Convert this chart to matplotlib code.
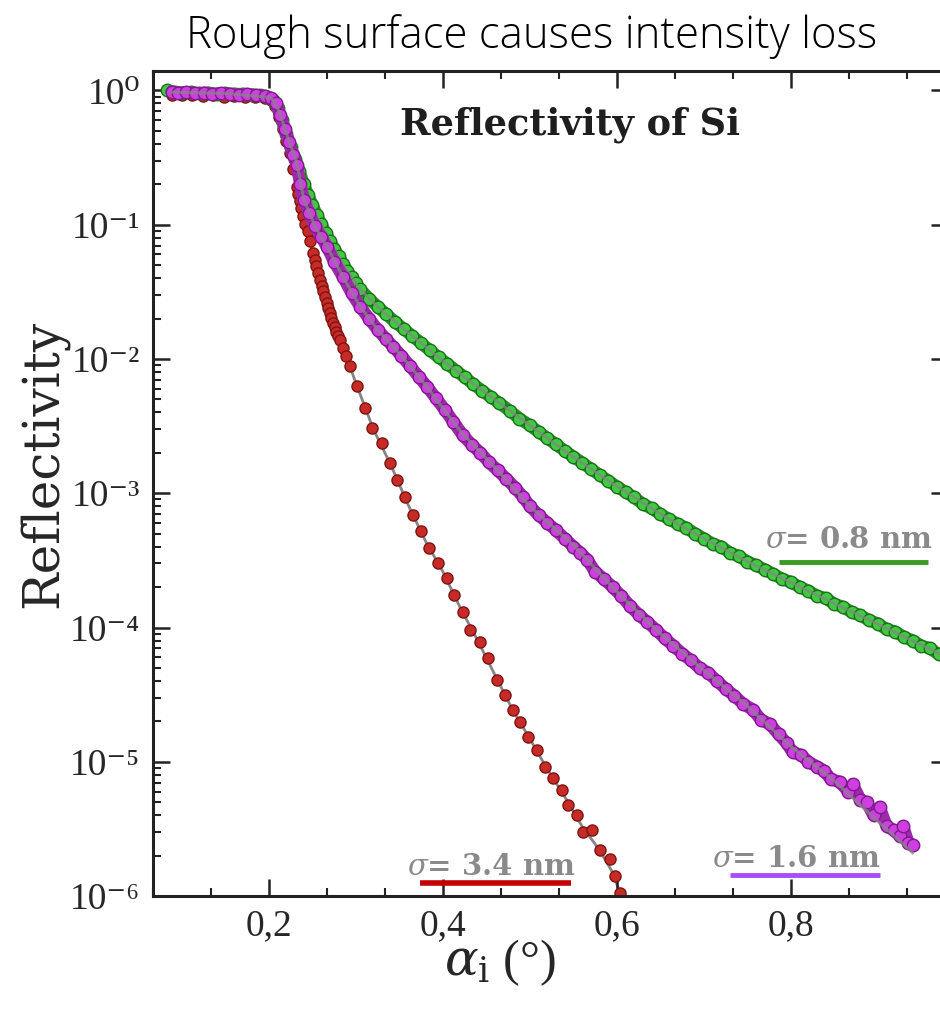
import numpy as np
import matplotlib
matplotlib.use("Agg")
import matplotlib.pyplot as plt
from matplotlib.ticker import AutoMinorLocator, LogLocator, NullFormatter, FixedLocator, FuncFormatter

plt.rcParams['font.family'] = ['Liberation Serif', 'DejaVu Serif']
plt.rcParams['mathtext.fontset'] = 'dejavuserif'

# ------------------------------
# measured reflectivity, sigma = 0.8 nm
# ------------------------------
alpha_08 = [0.083, 0.092, 0.100, 0.110, 0.120, 0.130, 0.140, 0.150, 0.160, 0.170,
            0.180, 0.190, 0.198, 0.205, 0.210, 0.215, 0.220, 0.225, 0.230, 0.235,
            0.240, 0.245, 0.250, 0.255, 0.260, 0.265, 0.270, 0.275, 0.280, 0.285,
            0.290, 0.295, 0.300, 0.305, 0.315, 0.325, 0.335, 0.345, 0.355, 0.365,
            0.375, 0.385, 0.395, 0.405, 0.415, 0.425, 0.435, 0.445, 0.455, 0.465,
            0.477, 0.488, 0.500, 0.510, 0.520, 0.530, 0.540, 0.550, 0.560, 0.570,
            0.580, 0.590, 0.600, 0.610, 0.620, 0.630, 0.640, 0.650, 0.660, 0.670,
            0.680, 0.690, 0.700, 0.710, 0.720, 0.730, 0.740, 0.750, 0.760, 0.770,
            0.780, 0.790, 0.800, 0.810, 0.820, 0.830, 0.840, 0.850, 0.860, 0.870,
            0.880, 0.890, 0.900, 0.910, 0.920, 0.930, 0.940, 0.950, 0.960, 0.970,
            0.980]
refl_08 = [1.00, 0.97, 0.96, 0.97, 0.95, 0.96, 0.94, 0.95, 0.94, 0.94,
           0.93, 0.92, 0.90, 0.85, 0.74, 0.60, 0.47, 0.38, 0.31, 0.25,
           0.20, 0.166, 0.140, 0.118, 0.101, 0.087, 0.076, 0.066, 0.058, 0.051,
           0.0455, 0.0405, 0.0365, 0.0330, 0.0282, 0.0245, 0.0215, 0.0189, 0.0167, 0.0148,
           0.0131, 0.0116, 0.0103, 0.0092, 0.0082, 0.0073, 0.0065, 0.0058, 0.0052, 0.0047,
           0.0041, 0.0036, 0.0032, 0.00286, 0.00257, 0.00231, 0.00207, 0.00187, 0.00169, 0.00152,
           0.00137, 0.00124, 0.00112, 0.00102, 0.00093, 0.00083, 0.00077, 0.00070, 0.00064, 0.00059,
           0.00055, 0.00050, 0.00046, 0.00042, 0.00040, 0.00036, 0.00034, 0.00031, 0.00029, 0.00027,
           0.00025, 0.00023, 0.000218, 0.000200, 0.000188, 0.000172, 0.000165, 0.000150, 0.000142, 0.000130,
           0.000123, 0.000113, 0.000107, 0.000097, 0.000093, 0.000085, 0.000080, 0.000073, 0.000070, 0.000063,
           0.000060]

fit_alpha_08 = [0.083, 0.15, 0.20, 0.205, 0.212, 0.22, 0.23, 0.24, 0.25, 0.26,
                0.27, 0.28, 0.29, 0.305, 0.325, 0.345, 0.365, 0.395, 0.425, 0.465,
                0.50, 0.54, 0.58, 0.62, 0.66, 0.70, 0.75, 0.80, 0.85, 0.90,
                0.95, 0.98]
fit_refl_08 = [0.98, 0.95, 0.91, 0.87, 0.70, 0.47, 0.31, 0.20, 0.140, 0.101,
               0.076, 0.058, 0.0455, 0.0330, 0.0245, 0.0189, 0.0148, 0.0103, 0.0073, 0.0047,
               0.0032, 0.00207, 0.00137, 0.00093, 0.00064, 0.00046, 0.00031, 0.000216, 0.000151, 0.000106,
               0.000074, 0.000060]

# ------------------------------
# measured reflectivity, sigma = 1.6 nm
# ------------------------------
alpha_16 = [0.088, 0.095, 0.105, 0.115, 0.125, 0.135, 0.145, 0.155, 0.165, 0.175,
            0.185, 0.195, 0.202, 0.208, 0.213, 0.218, 0.223, 0.228, 0.232, 0.236,
            0.240, 0.246, 0.253, 0.260, 0.267, 0.275, 0.285, 0.295, 0.305, 0.315,
            0.325, 0.334, 0.343, 0.352, 0.362, 0.372, 0.382, 0.392, 0.402, 0.412,
            0.423, 0.433, 0.443, 0.453, 0.463, 0.473, 0.483, 0.492, 0.500, 0.510,
            0.520, 0.530, 0.540, 0.550, 0.558, 0.566, 0.575, 0.585, 0.595, 0.605,
            0.615, 0.625, 0.635, 0.645, 0.655, 0.665, 0.675, 0.685, 0.695, 0.705,
            0.715, 0.725, 0.735, 0.745, 0.756, 0.766, 0.776, 0.786, 0.795, 0.802,
            0.812, 0.820, 0.830, 0.838, 0.846, 0.856, 0.866, 0.871, 0.880, 0.887,
            0.895, 0.902, 0.910, 0.918, 0.925, 0.929, 0.935, 0.940]
refl_16 = [0.98, 0.96, 0.97, 0.95, 0.96, 0.94, 0.95, 0.94, 0.93, 0.94,
           0.92, 0.91, 0.88, 0.80, 0.66, 0.52, 0.41, 0.33, 0.28, 0.20,
           0.152, 0.122, 0.097, 0.081, 0.068, 0.053, 0.041, 0.031, 0.0245, 0.0200,
           0.0165, 0.0142, 0.0123, 0.0106, 0.0089, 0.0074, 0.0062, 0.0051, 0.0042, 0.0034,
           0.0027, 0.0023, 0.0020, 0.0017, 0.00148, 0.00128, 0.00110, 0.00094, 0.00080, 0.00069,
           0.00060, 0.00053, 0.00046, 0.00040, 0.00036, 0.00032, 0.00026, 0.00023, 0.00020, 0.000172,
           0.000145, 0.000125, 0.000110, 0.000096, 0.000083, 0.000073, 0.000064, 0.000057, 0.000050, 0.000046,
           0.000040, 0.000035, 0.000031, 0.000027, 0.0000245, 0.0000205, 0.0000190, 0.0000160, 0.0000138, 0.0000118,
           0.0000112, 0.0000100, 0.0000092, 0.0000086, 0.0000074, 0.0000071, 0.0000060, 0.0000068, 0.0000052, 0.0000050,
           0.0000040, 0.0000046, 0.0000033, 0.0000031, 0.0000028, 0.0000033, 0.0000025, 0.0000024]

fit_alpha_16 = [0.088, 0.15, 0.20, 0.205, 0.212, 0.22, 0.232, 0.240, 0.253, 0.267,
                0.285, 0.305, 0.325, 0.35, 0.38, 0.42, 0.46, 0.50, 0.55, 0.60,
                0.65, 0.70, 0.75, 0.80, 0.85, 0.90, 0.94]
fit_refl_16 = [0.97, 0.95, 0.89, 0.85, 0.69, 0.48, 0.29, 0.155, 0.097, 0.068,
               0.041, 0.0245, 0.0165, 0.0110, 0.0064, 0.0029, 0.00155, 0.00080, 0.00041, 0.000185,
               0.000090, 0.000048, 0.0000260, 0.0000130, 0.0000072, 0.0000036, 0.0000021]

# ------------------------------
# measured reflectivity, sigma = 3.4 nm
# ------------------------------
alpha_34 = [0.088, 0.100, 0.112, 0.124, 0.136, 0.148, 0.160, 0.172, 0.184, 0.195,
            0.202, 0.207, 0.212, 0.216, 0.220, 0.224, 0.228, 0.2318, 0.2337, 0.2356,
            0.2373, 0.2391, 0.2420, 0.2448, 0.2477, 0.2506, 0.2526, 0.2546, 0.2566, 0.2586,
            0.2605, 0.2625, 0.2644, 0.2663, 0.2682, 0.2700, 0.2718, 0.2736, 0.2756, 0.2776,
            0.2796, 0.2816, 0.2850, 0.2885, 0.2931, 0.3008, 0.3103, 0.3180, 0.3295, 0.3391,
            0.3468, 0.3563, 0.3652, 0.3744, 0.3843, 0.3947, 0.4043, 0.4127, 0.4227, 0.4310,
            0.4425, 0.4517, 0.4621, 0.4713, 0.4805, 0.4885, 0.4977, 0.5080, 0.5172, 0.5264,
            0.5368, 0.5437, 0.5540, 0.5609, 0.5713, 0.5805, 0.5920, 0.5977, 0.6034]
refl_34 = [0.93, 0.92, 0.93, 0.91, 0.92, 0.90, 0.91, 0.90, 0.89, 0.88,
           0.85, 0.76, 0.63, 0.52, 0.42, 0.34, 0.26, 0.192, 0.170, 0.150,
           0.133, 0.116, 0.102, 0.090, 0.075, 0.062, 0.055, 0.049, 0.044, 0.039,
           0.035, 0.032, 0.029, 0.026, 0.024, 0.022, 0.0202, 0.0185, 0.0172, 0.0160,
           0.0148, 0.0138, 0.0120, 0.0105, 0.0088, 0.0063, 0.0043, 0.00305, 0.00236, 0.00167,
           0.00126, 0.00094, 0.00069, 0.00052, 0.00039, 0.00030, 0.000232, 0.000175, 0.000131, 0.0000957,
           0.0000783, 0.0000593, 0.0000406, 0.0000314, 0.0000243, 0.0000198, 0.0000153, 0.0000122, 0.0000091, 0.0000076,
           0.0000062, 0.0000048, 0.0000040, 0.0000030, 0.0000031, 0.0000022, 0.0000019, 0.0000014, 0.00000105]

fit_alpha_34 = [0.088, 0.20, 0.207, 0.216, 0.224, 0.232, 0.240, 0.25, 0.26, 0.27,
                0.28, 0.29, 0.30, 0.32, 0.34, 0.36, 0.38, 0.40, 0.42, 0.44,
                0.46, 0.48, 0.50, 0.52, 0.54, 0.56, 0.58, 0.595, 0.605]
fit_refl_34 = [0.93, 0.87, 0.76, 0.52, 0.34, 0.19, 0.11, 0.063, 0.036, 0.022,
               0.0145, 0.0100, 0.0066, 0.0030, 0.00163, 0.00082, 0.00044, 0.00026, 0.000140, 0.000080,
               0.000044, 0.0000245, 0.0000148, 0.0000088, 0.0000055, 0.0000033, 0.0000022, 0.0000015, 0.0000010]

x_ticks = [0.2, 0.4, 0.6, 0.8]
y_ticks = [1e-6, 1e-5, 1e-4, 1e-3, 1e-2, 1e-1, 1e0]
labels = ["0.8 nm", "1.6 nm", "3.4 nm"]

TEXT = '#262626'
FIT = '#858585'
WIDE = ['DejaVu Serif']
SUP = str.maketrans("-0123456789", "⁻⁰¹²³⁴⁵⁶⁷⁸⁹")


def decade_label(v, pos):
    return "10" + str(int(round(np.log10(v)))).translate(SUP)


fig = plt.figure(figsize=(9.4, 10.11), dpi=100)
ax = fig.add_axes([0.1624, 0.1137, 0.846, 0.8161])

# sigma = 3.4 nm : separate dots, fit underneath
ax.plot(fit_alpha_34, fit_refl_34, '-', color=FIT, lw=2.0, zorder=1.5)
ax.plot(alpha_34, refl_34, 'o', ms=8, mfc='#c62b28', mec='#7e1412', mew=1.0, zorder=2)

# sigma = 0.8 nm : dense band
ax.plot(alpha_08, refl_08, '-', color='#2c8f2c', lw=9, solid_capstyle='round', zorder=3)
ax.plot(alpha_08, refl_08, 'o', ms=9, mfc='#3fcb3f', mec='#1f6f1f', mew=1.0, zorder=3.1)
ax.plot(fit_alpha_08, fit_refl_08, '-', color=FIT, lw=2.0, alpha=0.75, zorder=3.2)

# sigma = 1.6 nm : dense band
ax.plot(alpha_16, refl_16, '-', color='#9c2aab', lw=9, solid_capstyle='round', zorder=4)
ax.plot(alpha_16, refl_16, 'o', ms=9, mfc='#cf3ee0', mec='#7c1c89', mew=1.0, zorder=4.1)
ax.plot(fit_alpha_16, fit_refl_16, '-', color=FIT, lw=2.2, alpha=0.75, zorder=4.2)

# axes
ax.set_yscale('log')
ax.set_xlim(0.0663, 0.9805)
ax.set_ylim(1e-6, 10 ** 0.145)

ax.xaxis.set_major_locator(FixedLocator(x_ticks))
ax.xaxis.set_major_formatter(FuncFormatter(lambda v, p: f"{v:.1f}".replace('.', ',')))
ax.xaxis.set_minor_locator(AutoMinorLocator(3))
ax.yaxis.set_major_locator(FixedLocator(y_ticks))
ax.yaxis.set_major_formatter(FuncFormatter(decade_label))
ax.yaxis.set_minor_locator(LogLocator(base=10, subs=np.arange(2, 10), numticks=20))
ax.yaxis.set_minor_formatter(NullFormatter())

ax.tick_params(which='both', direction='in', top=True, right=True, colors='#222222')
ax.tick_params(which='major', length=12, width=1.8, labelcolor=TEXT)
ax.tick_params(axis='x', which='major', pad=9, labelsize=27)
ax.tick_params(axis='y', which='major', pad=9, labelsize=27)
ax.tick_params(which='minor', length=6, width=1.5)
for s in ax.spines.values():
    s.set_linewidth(2.2)
    s.set_color('#222222')

ax.set_ylabel("Reflectivity", family=WIDE, fontsize=36, color=TEXT)
ax.yaxis.set_label_coords(-0.106, 0.524)
ax.set_xlabel(r"$\alpha_{\mathrm{i}}$ (°)", fontsize=36, color=TEXT)
ax.xaxis.set_label_coords(0.437, -0.050)

ax.text(0.525, 0.9345, "Reflectivity of Si", transform=ax.transAxes, family=WIDE,
        ha='center', va='center', fontsize=26.5, fontweight='bold', color='#1e1e1e')

# roughness labels with coloured keys
ax.text(0.770, 0.4218, r"$\sigma$= " + labels[0], transform=ax.transAxes, family=WIDE,
        fontsize=21, fontweight='bold', color='#8a8a8a', va='baseline')
ax.plot([0.7875, 0.975], [0.4048, 0.4048], transform=ax.transAxes, color='#3a9a22', lw=3.5,
        solid_capstyle='butt', clip_on=False)

ax.text(0.7034, 0.035, r"$\sigma$= " + labels[1], transform=ax.transAxes, family=WIDE,
        fontsize=21, fontweight='bold', color='#8a8a8a', va='baseline')
ax.plot([0.726, 0.9145], [0.0255, 0.0255], transform=ax.transAxes, color='#a64dff', lw=3.5,
        solid_capstyle='butt')

ax.text(0.3196, 0.0255, r"$\sigma$= " + labels[2], transform=ax.transAxes, family=WIDE,
        fontsize=21, fontweight='bold', color='#8a8a8a', va='baseline')
ax.plot([0.3363, 0.526], [0.01576, 0.01576], transform=ax.transAxes, color='#c40000', lw=4,
        solid_capstyle='butt')

fig.text(0.5654, 1 - 37 / 1011, "Rough surface causes intensity loss",
         family=['Open Sans', 'DejaVu Sans'], fontweight='light', fontsize=31.5,
         ha='center', va='center', color='black')

fig.savefig("out.png", dpi=100, facecolor='white')
